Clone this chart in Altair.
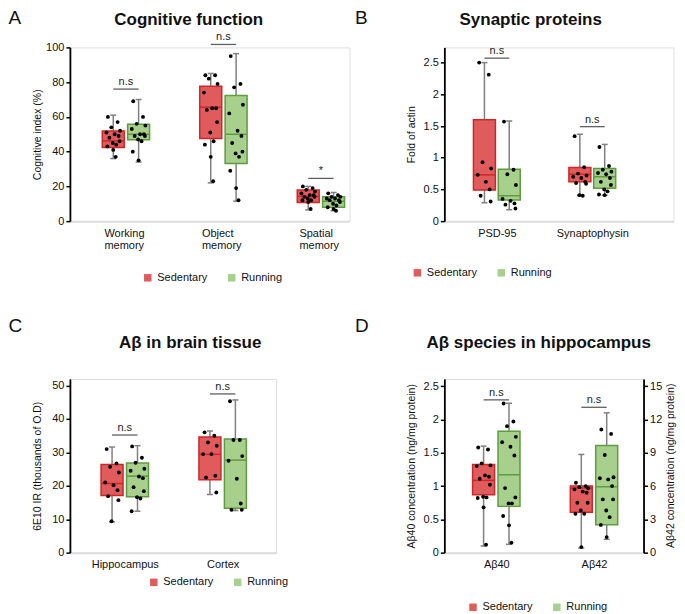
import altair as alt
import pandas as pd

SERIES = ["Sedentary", "Running"]
BOX_FILL = ["#E05C5C", "#A7D08C"]
BOX_EDGE = ["#D02626", "#5F9B3F"]
WHISKER = "#808080"
FONT = "Liberation Sans"
OFFSET = 0.13
JITTER = [-0.055, 0.045, -0.02, 0.07, -0.07, 0.015, 0.055, -0.04, 0.065, -0.005, 0.03, -0.06, 0.0, 0.025]

# ---------------- Panel A : Cognitive function ----------------
A_CATS = ["Working memory", "Object memory", "Spatial memory"]
A_SED = [[60, 57, 54, 52, 51, 50, 49, 48, 46, 45, 44, 43, 41, 37],
         [84, 84, 82, 79, 74, 65, 65, 64, 57, 51, 46, 44, 37, 23],
         [20, 19, 18, 17, 16, 15, 15, 14, 14, 13, 12, 12, 11, 7]]
A_RUN = [[69, 60, 56, 55, 53, 50, 50, 49, 49, 47, 46, 40, 35],
         [95, 79, 77, 67, 62, 52, 49, 45, 40, 39, 37, 29, 19, 12],
         [16, 15, 14, 14, 13, 13, 12, 12, 11, 10, 9, 8, 7, 6]]
# box stats: q1, median, q3, min, max
A_SED_BOX = [[42.4, 46.2, 51.9, 36, 61], [47.5, 65.6, 77.7, 22, 85], [10.7, 14.3, 17.9, 6.5, 20]]
A_RUN_BOX = [[46.8, 50, 55.7, 34, 70], [33.2, 50, 72.3, 11.5, 96.4], [8, 11.5, 14, 6, 16.5]]
A_SIG_Y = [76, 101.7, 24.6]
A_SIG = ["n.s", "n.s", "*"]
A_YTICKS = [0, 20, 40, 60, 80, 100]

# ---------------- Panel B : Synaptic proteins ----------------
B_CATS = ["PSD-95", "Synaptophysin"]
B_SED = [[2.5, 2.31, 0.93, 0.83, 0.73, 0.62, 0.50, 0.40, 0.31],
         [1.34, 0.85, 0.75, 0.72, 0.70, 0.68, 0.62, 0.60, 0.59, 0.41, 0.40]]
B_RUN = [[1.57, 0.81, 0.74, 0.57, 0.35, 0.32, 0.28, 0.26, 0.20],
         [1.17, 0.87, 0.81, 0.78, 0.76, 0.74, 0.68, 0.62, 0.57, 0.50, 0.47, 0.42, 0.41]]
B_SED_BOX = [[0.49, 0.73, 1.6, 0.29, 2.5], [0.62, 0.74, 0.845, 0.41, 1.37]]
B_RUN_BOX = [[0.335, 0.40, 0.82, 0.18, 1.58], [0.52, 0.70, 0.83, 0.41, 1.21]]
B_SIG_Y = [2.57, 1.49]
B_SIG = ["n.s", "n.s"]
B_YTICKS = [0, 0.5, 1, 1.5, 2, 2.5]

# ---------------- Panel C : Abeta in brain tissue ----------------
C_CATS = ["Hippocampus", "Cortex"]
C_SED = [[31, 26.7, 25.7, 24, 21, 20.2, 18.7, 16.9, 15.7, 9.4],
         [36, 35, 33, 32, 29.5, 29.5, 23, 22.5, 18]]
C_RUN = [[31.8, 28.4, 26.9, 25.1, 24.5, 22.8, 22.3, 19.6, 18.4, 16.6, 16.2, 12.4],
         [45.3, 33.7, 33.7, 28.9, 27.5, 22.1, 14.7, 12.8, 12.8]]
C_SED_BOX = [[17.1, 20.7, 26.4, 9.2, 31.6], [21.8, 29.4, 34.6, 17.4, 36.4]]
C_RUN_BOX = [[16.7, 22.9, 26.8, 12.4, 32], [13.3, 27.7, 34, 12.6, 45.7]]
C_SIG_Y = [35.2, 47.5]
C_SIG = ["n.s", "n.s"]
C_YTICKS = [0, 10, 20, 30, 40, 50]

# ---------------- Panel D : Abeta species in hippocampus ----------------
D_CATS = ["Aβ40", "Aβ42"]
# Abeta40 in left-axis units, Abeta42 in right-axis units
D_SED = [[1.58, 1.55, 1.34, 1.31, 1.30, 1.16, 1.14, 1.11, 1.02, 0.84, 0.83, 0.82, 0.68, 0.12],
         [6.3, 6.0, 5.9, 5.8, 5.7, 5.5, 5.4, 4.5, 4.5, 3.8, 3.5, 3.5, 0.5]]
D_RUN = [[2.24, 1.97, 1.90, 1.74, 1.66, 1.59, 1.46, 0.97, 0.83, 0.74, 0.74, 0.55, 0.41, 0.15],
         [11.1, 10.7, 8.8, 6.8, 6.7, 6.6, 6.0, 4.8, 4.8, 3.8, 3.2, 2.5, 1.4]]
D_SED_BOX = [[0.87, 1.085, 1.325, 0.1, 1.6], [3.63, 5.82, 6.0, 0.42, 8.85]]
D_RUN_BOX = [[0.695, 1.17, 1.825, 0.125, 2.245], [2.52, 5.94, 9.66, 1.2, 12.6]]
D_SIG_Y = [2.295, 13.1]
D_SIG = ["n.s", "n.s"]
D_YTICKS_L = [0, 0.5, 1, 1.5, 2, 2.5]
D_YTICKS_R = [0, 3, 6, 9, 12, 15]
D_RIGHT_TITLE = "Aβ42 concentration (ng/mg protein)"

H = 174


def frames(sed, run, sed_box, run_box, sig_y, sig_txt):
    pts, box, caps, sig = [], [], [], []
    for s_i, (series, vals_all, box_all) in enumerate(
            [(SERIES[0], sed, sed_box), (SERIES[1], run, run_box)]):
        off = -OFFSET if s_i == 0 else OFFSET
        for g, (vals, st) in enumerate(zip(vals_all, box_all), start=1):
            pos = g + off
            for k, v in enumerate(vals):
                pts.append(dict(g=g, series=series, x=pos + JITTER[k % len(JITTER)], v=v))
            q1, med, q3, lo, hi = st
            box.append(dict(g=g, series=series, x=pos, q1=q1, med=med, q3=q3, lo=lo, hi=hi))
            caps.append(dict(g=g, series=series, x=pos, v=lo))
            caps.append(dict(g=g, series=series, x=pos, v=hi))
    for g, (y, t) in enumerate(zip(sig_y, sig_txt), start=1):
        sig.append(dict(g=g, x1=g - OFFSET, x2=g + OFFSET, y=y, t=t))
    return [pd.DataFrame(d) for d in (pts, box, caps, sig)]


def label_expr(cats, multiline):
    parts = []
    for i, c in enumerate(cats, start=1):
        if multiline:
            txt = "[" + ",".join("'" + w + "'" for w in c.split(" ")) + "]"
        else:
            txt = "'" + c + "'"
        parts.append("datum.value == %d ? %s : " % (i, txt))
    return "".join(parts) + "''"


def x_axis(cats, multiline):
    kw = dict(values=list(range(1, len(cats) + 1)), labelExpr=label_expr(cats, multiline),
              ticks=False, grid=False, domainColor="#DCDCDC", domainWidth=2,
              labelFontSize=11, labelColor="#111", labelPadding=6, labelOverlap=False,
              labelFlush=False, labelBaseline="top", title=None, labelFont=FONT)
    if multiline:
        kw.update(labelAlign="left", labelOffset=-22, labelLineHeight=12.5)
    return alt.Axis(**kw)


def y_axis(values, title, orient="left"):
    kw = dict(values=values, format="~r", grid=False, orient=orient,
              domainColor="black", domainWidth=1.8, tickColor="black",
              tickWidth=1.5, tickSize=4, labelFontSize=11, labelColor="#111",
              labelPadding=2, labelFont=FONT)
    if title:
        kw.update(title=title, titleFontSize=10.5, titleFontWeight="normal",
                  titleColor="#111", titleFont=FONT, titleAngle=270,
                  titleX=-32.5, titleY=H / 2, titleAlign="center", titleBaseline="middle")
    else:
        kw.update(title=None)
    return alt.Axis(**kw)


def data_layers(dfs, X, Y, legend):
    pts, box, caps, sig = dfs
    color = alt.Color("series:N", scale=alt.Scale(domain=SERIES, range=BOX_FILL), legend=legend)
    stroke = alt.Stroke("series:N", scale=alt.Scale(domain=SERIES, range=BOX_EDGE), legend=None)
    fill_med = alt.Fill("series:N", scale=alt.Scale(domain=SERIES, range=BOX_EDGE), legend=None)
    whisk = alt.Chart(box).mark_rule(color=WHISKER, strokeWidth=1.5).encode(
        x=X("x"), y=Y("lo"), y2="hi")
    cap = alt.Chart(caps).mark_tick(color=WHISKER, orient="horizontal", size=6,
                                    thickness=1.5, opacity=1).encode(x=X("x"), y=Y("v"))
    boxes = alt.Chart(box).mark_bar(size=22, strokeWidth=1.5, opacity=1).encode(
        x=X("x"), y=Y("q1"), y2="q3", color=color, stroke=stroke)
    med = alt.Chart(box).mark_tick(orient="horizontal", size=22, thickness=1.5,
                                   opacity=1).encode(x=X("x"), y=Y("med"), fill=fill_med)
    dots = alt.Chart(pts).mark_circle(color="black", size=15, opacity=1).encode(
        x=X("x"), y=Y("v"))
    sig_rule = alt.Chart(sig).mark_rule(color="#606060", strokeWidth=1.3).encode(
        x=X("x1"), x2="x2", y=Y("y"))
    sig_text = alt.Chart(sig).mark_text(fontSize=11, baseline="alphabetic", dy=-4,
                                        color="#222", font=FONT).encode(
        x=X("g"), y=Y("y"), text="t:N")
    return [whisk, cap, boxes, med, dots, sig_rule, sig_text]


def text_layers(letter, letter_xy, title, title_xy):
    lt = alt.Chart(pd.DataFrame({"t": [letter]})).mark_text(
        fontSize=19, align="left", baseline="alphabetic", font=FONT, color="#111").encode(
        x=alt.value(letter_xy[0]), y=alt.value(letter_xy[1]), text="t:N")
    tt = alt.Chart(pd.DataFrame({"t": [title]})).mark_text(
        fontSize=17, fontWeight="bold", align="center", baseline="alphabetic",
        font=FONT, color="#111").encode(
        x=alt.value(title_xy[0]), y=alt.value(title_xy[1]), text="t:N")
    return [lt, tt]


def legend(lx, ly):
    return alt.Legend(orient="none", legendX=lx, legendY=ly, direction="horizontal",
                      title=None, symbolType="square", symbolSize=56, symbolStrokeWidth=0,
                      labelFontSize=11, labelColor="#111", labelFont=FONT, labelOffset=4,
                      columnPadding=18, padding=0)


def make_xy(cats, multiline, xdom, ydom, yaxis):
    xax = x_axis(cats, multiline)
    xs = alt.Scale(domain=xdom, nice=False, zero=False)
    ys = alt.Scale(domain=ydom, nice=False, zero=False)

    def X(f):
        return alt.X(f, type="quantitative", scale=xs, axis=xax)

    def Y(f):
        return alt.Y(f, type="quantitative", scale=ys, axis=yaxis)
    return X, Y


def simple_panel(cats, multiline, dfs, xdom, ydom, yvals, ytitle, w, leg, letter, lxy,
                 title, txy):
    X, Y = make_xy(cats, multiline, xdom, ydom, y_axis(yvals, ytitle))
    layers = data_layers(dfs, X, Y, legend(*leg)) + text_layers(letter, lxy, title, txy)
    return alt.layer(*layers).properties(width=w, height=H)


# Panel A
dfA = frames(A_SED, A_RUN, A_SED_BOX, A_RUN_BOX, A_SIG_Y, A_SIG)
chartA = simple_panel(A_CATS, True, dfA, [0.4765, 3.242], [0, 100], A_YTICKS,
                      "Cognitive index (%)", 280, (72.5, 225), "A", (-61.5, -23.2),
                      "Cognitive function", (119, -22.2))

# Panel B
dfB = frames(B_SED, B_RUN, B_SED_BOX, B_RUN_BOX, B_SIG_Y, B_SIG)
chartB = simple_panel(B_CATS, False, dfB, [0.5024, 2.7986], [0, 2.74], B_YTICKS,
                      "Fold of actin", 229.5, (-32.5, 220), "B", (-89.5, -23.2),
                      "Synaptic proteins", (86.5, -22.8))

# Panel C
dfC = frames(C_SED, C_RUN, C_SED_BOX, C_RUN_BOX, C_SIG_Y, C_SIG)
chartC = simple_panel(C_CATS, False, dfC, [0.4903, 2.495], [0, 52], C_YTICKS,
                      "6E10 IR (thousands of O.D)", 206.5, (78.5, 198), "C", (-61.5, -47.3),
                      "Aβ in brain tissue", (120.5, -31))

# Panel D (two y axes)
DW = 199.5
dfD = frames(D_SED, D_RUN, D_SED_BOX, D_RUN_BOX, D_SIG_Y, D_SIG)
dfD_left = [d[d["g"] == 1] for d in dfD]
dfD_right = [d[d["g"] == 2] for d in dfD]
D_XDOM = [0.5194, 2.456]
XL, YL = make_xy(D_CATS, False, D_XDOM, [0, 2.61],
                 y_axis(D_YTICKS_L, "Aβ40 concentration (ng/mg protein)"))
XR, YR = make_xy(D_CATS, False, D_XDOM, [0, 15.66],
                 y_axis(D_YTICKS_R, None, orient="right"))
legD = legend(23.2, 223)
right_title = alt.Chart(pd.DataFrame({"t": [D_RIGHT_TITLE]})).mark_text(
    fontSize=10.5, angle=270, align="center", baseline="middle", font=FONT,
    color="#111").encode(x=alt.value(DW + 27), y=alt.value(H / 2), text="t:N")
left_part = alt.layer(*(data_layers(dfD_left, XL, YL, legD) +
                        text_layers("D", (-89.5, -47.3), "Aβ species in hippocampus",
                                    (94.5, -31)) + [right_title]))
right_part = alt.layer(*data_layers(dfD_right, XR, YR, legD))
chartD = alt.layer(left_part, right_part).resolve_scale(y="independent").properties(
    width=DW, height=H)

chart = alt.concat(chartA, chartB, chartC, chartD, columns=2,
                   spacing={"row": 158, "column": 95}, bounds="flush", align="all",
                   padding=0).resolve_scale(
    x="independent", y="independent", color="independent", stroke="independent",
    fill="independent").configure_view(stroke=None).configure(font=FONT)

chart.save("out.html", embed_options={"renderer": "svg", "actions": False})
